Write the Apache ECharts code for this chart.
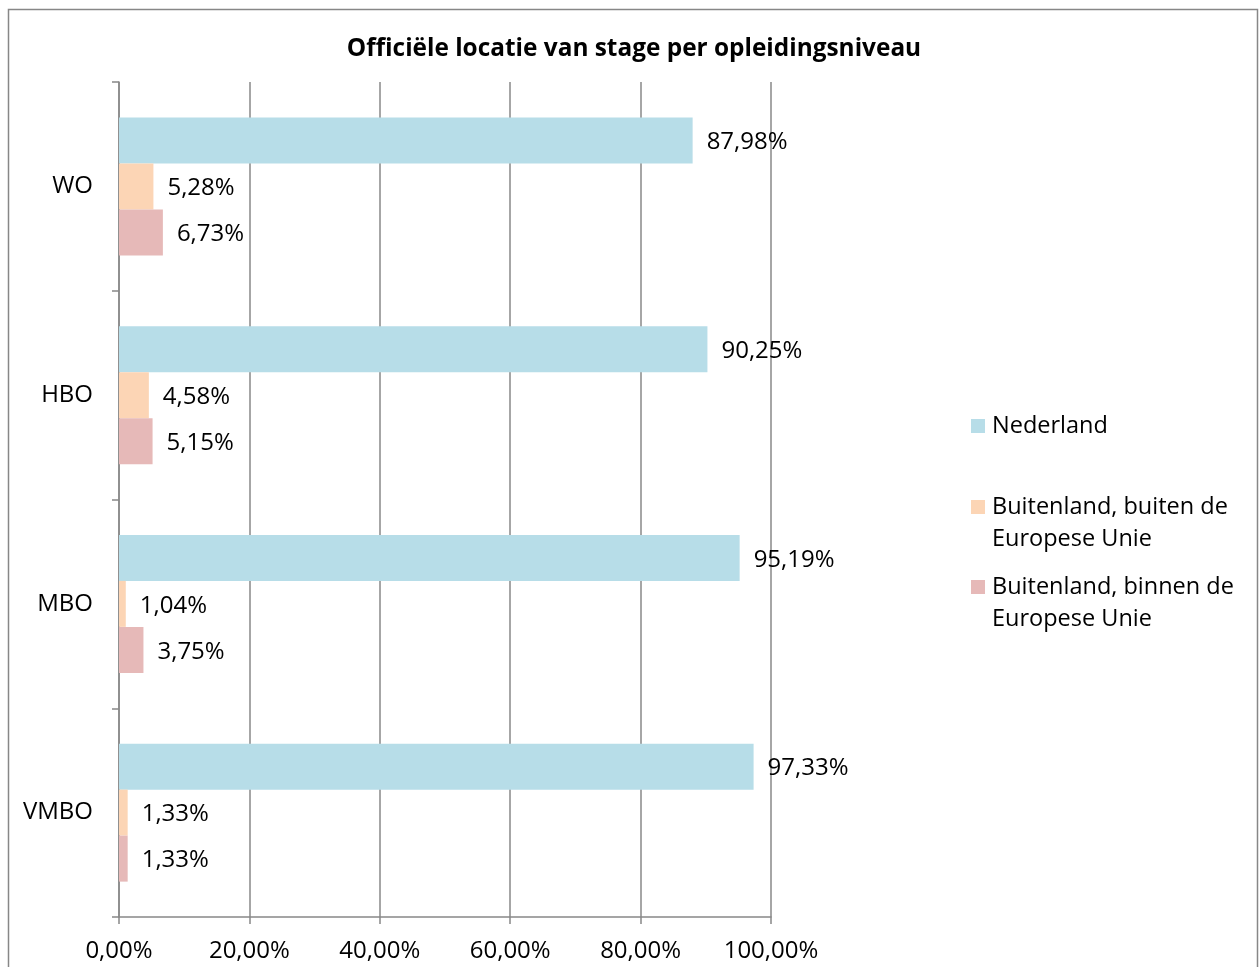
<!DOCTYPE html>
<html><head><meta charset="utf-8">
<script src="https://cdn.jsdelivr.net/npm/echarts@6/dist/echarts.min.js"></script>
<style>html,body{margin:0;padding:0;background:#fff}#c{width:1260px;height:967px}</style>
</head><body><div id="c"></div>
<script>
const categories = ['VMBO', 'MBO', 'HBO', 'WO'];
const seriesNames = ['Nederland', 'Buitenland, buiten de Europese Unie', 'Buitenland, binnen de Europese Unie'];
const nederland = [97.33, 95.19, 90.25, 87.98];
const buitenEU = [1.33, 1.04, 4.58, 5.28];
const binnenEU = [1.33, 3.75, 5.15, 6.73];
const xTicks = [0, 20, 40, 60, 80, 100];

const colors = ['#B7DDE8', '#FCD5B5', '#E6B9B8'];
const FONT = '"Open Sans", Lato, sans-serif';
const fmt = v => v.toFixed(2).replace('.', ',') + '%';
const legendLabels = {};
legendLabels[seriesNames[0]] = seriesNames[0];
legendLabels[seriesNames[1]] = '\nBuitenland, buiten de\nEuropese Unie';
legendLabels[seriesNames[2]] = '\nBuitenland, binnen de\nEuropese Unie';

const datasets = [nederland, buitenEU, binnenEU];
const chart = echarts.init(document.getElementById('c'));
const legendTops = [410, 459, 539];
chart.setOption({
  animation: false,
  backgroundColor: '#fff',
  title: {
    text: 'Officiële locatie van stage per opleidingsniveau',
    left: 629, top: 32, textAlign: 'center',
    textStyle: { fontFamily: FONT, fontSize: 24.4, fontWeight: 'bold', color: '#000' }
  },
  graphic: [{
    type: 'rect', shape: { x: 8.5, y: 9.5, width: 1249, height: 970 },
    style: { fill: 'none', stroke: '#878787', lineWidth: 1.5 }, silent: true, z: -1
  }],
  legend: seriesNames.map((n, i) => ({
    data: [n], orient: 'vertical', left: 971, top: legendTops[i], padding: 0,
    icon: 'rect', itemWidth: 14, itemHeight: 14, itemGap: 0,
    formatter: name => legendLabels[name],
    textStyle: { fontFamily: FONT, fontSize: 23.5, color: '#000', lineHeight: 32, padding: [0, 0, 0, 2] }
  })),
  grid: { left: 119, right: 489, top: 82, bottom: 50, containLabel: false },
  xAxis: {
    type: 'value', min: 0, max: 100, interval: 20,
    axisLine: { show: true, lineStyle: { color: '#888', width: 1.5 } },
    axisTick: { show: true, length: 7, lineStyle: { color: '#888', width: 1.5 } },
    splitLine: { show: true, lineStyle: { color: '#888', width: 1.5 } },
    axisLabel: { margin: 22, fontFamily: FONT, fontSize: 24, color: '#000', formatter: v => fmt(v) }
  },
  yAxis: {
    type: 'category', data: categories,
    axisLine: { show: true, lineStyle: { color: '#888', width: 1.5 } },
    axisTick: { show: true, length: 7, inside: false, lineStyle: { color: '#888', width: 1.5 } },
    axisLabel: { margin: 26, fontFamily: FONT, fontSize: 24, color: '#000' }
  },
  series: seriesNames.map((n, i) => ({
    name: n, type: 'bar', data: datasets[i],
    barWidth: 46, barGap: '0%',
    itemStyle: { color: colors[i] },
    label: { show: true, position: 'right', distance: 14, offset: [0, 2], fontFamily: FONT, fontSize: 24, color: '#000',
      formatter: p => fmt(p.value) }
  }))
});
</script></body></html>
